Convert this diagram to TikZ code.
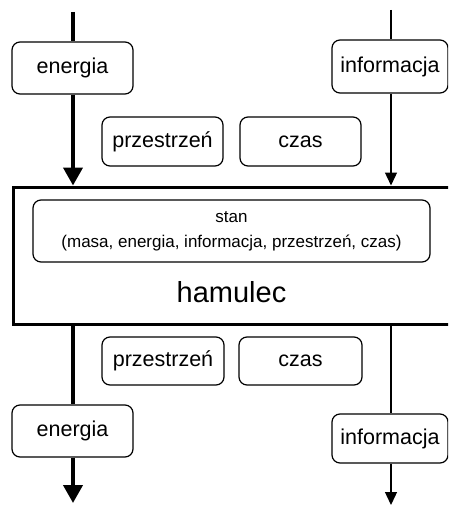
\documentclass[tikz,border=0pt]{standalone}
\usepackage{fontspec}
\setmainfont{Liberation Sans}
\usetikzlibrary{arrows.meta}
\tikzset{
  box/.style={draw, rounded corners=8pt, line width=1.2pt, inner sep=0pt,
    font=\fontsize{21.5}{25}\selectfont},
  heavy/.style={line width=4pt, -{Triangle[length=18pt,width=19pt]}},
  light/.style={line width=1.3pt, -{Triangle[length=13pt,width=12pt]}},
  heavyline/.style={line width=4pt},
  lightline/.style={line width=1.3pt},
}
\begin{document}
\begin{tikzpicture}[x=1pt,y=-1pt]
\useasboundingbox (0,0) rectangle (448,508);
\clip (0,0) rectangle (448,508);

% system block with its inner state
\node[draw, line width=3pt, minimum width=460pt, minimum height=137pt,
  anchor=north west, inner sep=0pt] (main) at (11.5,185.5) {};
\node[box, minimum width=397pt, minimum height=62pt, align=center,
  font=\fontsize{17}{25}\selectfont] (stan) at (231.5,231)
  {stan\\(masa, energia, informacja, przestrzeń, czas)};
\node[font=\fontsize{29}{34}\selectfont] (ham) at (231.5,292) {hamulec};

% inputs
\node[box, minimum width=121pt, minimum height=52pt] (eTop) at (72.5,68) {energia};
\node[box, minimum width=116pt, minimum height=53pt] (iTop) at (390,66.5) {informacja};
\node[box, minimum width=121pt, minimum height=49pt] (pTop) at (162.5,141.5) {przestrzeń};
\node[box, minimum width=121pt, minimum height=49pt] (cTop) at (300.5,141.5) {czas};

% outputs
\node[box, minimum width=122pt, minimum height=48pt] (pBot) at (163,361) {przestrzeń};
\node[box, minimum width=123pt, minimum height=48pt] (cBot) at (300.5,361) {czas};
\node[box, minimum width=121pt, minimum height=52pt] (eBot) at (72.5,431) {energia};
\node[box, minimum width=116pt, minimum height=49pt] (iBot) at (390,438.5) {informacja};

% free ends of the flows
\coordinate (eIn) at (73,12);
\coordinate (iIn) at (391,10);
\coordinate (eOut) at (73,503);
\coordinate (iOut) at (391,505);

% energy flow
\draw[heavyline] (eIn) -- (eIn |- eTop.north);
\draw[heavy] (eIn |- eTop.south) -- (eIn |- main.north);
\draw[heavyline] (eIn |- main.south) -- (eIn |- eBot.north);
\draw[heavy] (eIn |- eBot.south) -- (eOut);

% information flow
\draw[lightline] (iIn) -- (iIn |- iTop.north);
\draw[light] (iIn |- iTop.south) -- (iIn |- main.north);
\draw[lightline] (iIn |- main.south) -- (iIn |- iBot.north);
\draw[light] (iIn |- iBot.south) -- (iOut);
\end{tikzpicture}
\end{document}
